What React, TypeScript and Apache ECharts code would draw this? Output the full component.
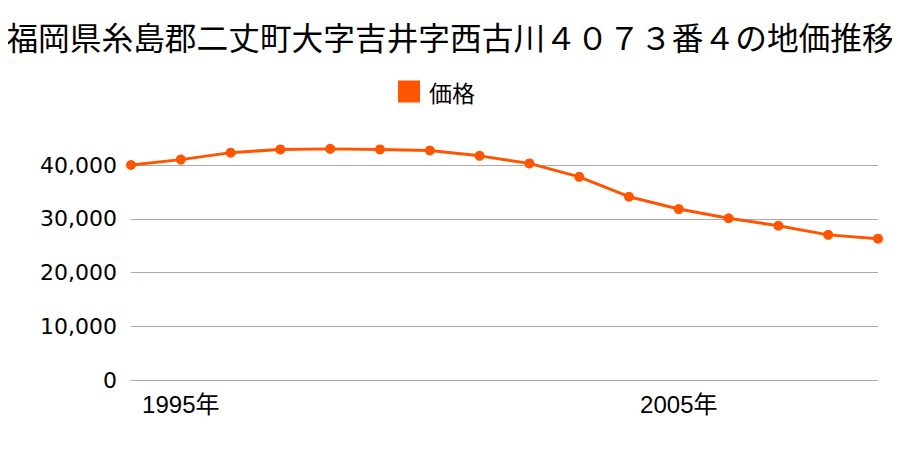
import React, { useEffect, useRef } from "react";
import * as echarts from "echarts";

const titleText = "福岡県糸島郡二丈町大字吉井字西古川４０７３番４の地価推移";
const seriesName = "価格";
const years = ["1994", "1995", "1996", "1997", "1998", "1999", "2000", "2001", "2002", "2003", "2004", "2005", "2006", "2007", "2008", "2009"];
const prices = [40000, 41000, 42300, 42900, 43000, 42900, 42700, 41700, 40300, 37800, 34100, 31800, 30100, 28700, 27000, 26300];
const labeledYears = ["1995", "2005"];

const FONT = "'Noto Sans CJK JP', 'Noto Sans', sans-serif";
const YFONT = "'DejaVu Sans', 'Noto Sans CJK JP', sans-serif";
const XFONT = "'Liberation Sans', 'Noto Sans CJK JP', sans-serif";

export default function App() {
  const ref = useRef<HTMLDivElement>(null);
  useEffect(() => {
    if (!ref.current) return;
    const chart = echarts.init(ref.current, null, { renderer: "svg" });
    chart.setOption({
      animation: false,
      backgroundColor: "#fff",
      title: {
        text: titleText,
        left: "center",
        top: 15,
        textStyle: { fontFamily: FONT, fontSize: 31.7, fontWeight: "normal", color: "#000" },
      },
      legend: {
        data: [seriesName],
        top: 75,
        left: 393,
        icon: "rect",
        itemWidth: 22,
        itemHeight: 22,
        itemGap: 10,
        textStyle: { fontFamily: FONT, fontSize: 23, color: "#000", padding: [0, 0, 0, 4] },
      },
      grid: { left: 131, right: 22, top: 165, bottom: 70, containLabel: false },
      xAxis: {
        type: "category",
        data: years,
        boundaryGap: false,
        axisLine: { show: false },
        axisTick: { show: false },
        axisLabel: {
          interval: (_i: number, v: string) => labeledYears.includes(v),
          formatter: (v: string) => `${v}年`,
          fontFamily: XFONT,
          fontSize: 24,
          color: "#000",
          margin: 12,
        },
        splitLine: { show: false },
      },
      yAxis: {
        type: "value",
        min: 0,
        max: 40000,
        interval: 10000,
        axisLine: { show: false },
        axisTick: { show: false },
        axisLabel: {
          fontFamily: YFONT,
          fontSize: 22,
          color: "#000",
          margin: 14,
          formatter: (v: number) => v.toLocaleString("en-US"),
        },
        splitLine: { lineStyle: { color: "#aaaaaa", width: 1 } },
      },
      series: [
        {
          name: seriesName,
          type: "line",
          data: prices,
          clip: false,
          color: "#ff5500",
          symbol: "circle",
          symbolSize: 10,
          lineStyle: { width: 3, color: "#ff5500" },
          itemStyle: { color: "#ff5500" },
        },
      ],
    });
    return () => chart.dispose();
  }, []);
  return <div ref={ref} style={{ width: 900, height: 450, margin: -8 }} />;
}
